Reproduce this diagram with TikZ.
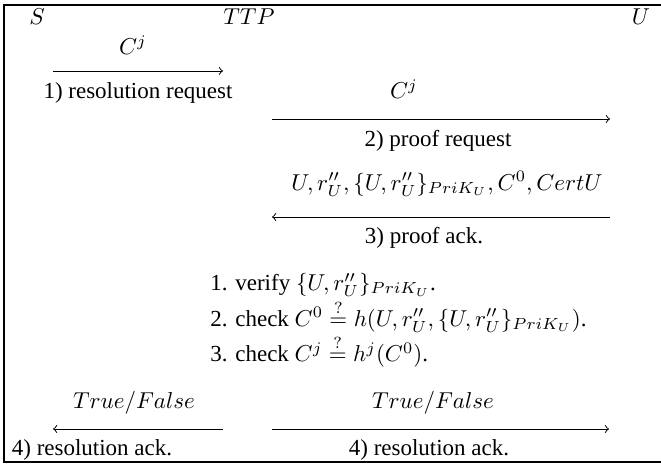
\documentclass[tikz,border=0pt]{standalone}
\usepackage{fontspec}
\setmainfont{Liberation Serif}
\newcommand{\qeq}{\mathrel{\smash{\stackrel{?}{=}}}}
\begin{document}
\begin{tikzpicture}[x=0.435pt,y=-0.435pt,
  lbl/.style={inner sep=0pt, anchor=center},
  chk/.style={inner sep=0pt, anchor=west},
  msg/.style={->, line width=0.4pt},
  frame/.style={line width=0.45pt}]
\useasboundingbox (0,0) rectangle (661,464);
\clip (0,0) rectangle (661,464);
\draw[frame] (690,5) -- (4,5) -- (4,462) -- (690,462);
% actors
\node[lbl] (S) at (37,17) {$S$};
\node[lbl] (TTP) at (249,17) {$TTP$};
\node[lbl] (U) at (641,17) {$U$};
% message 1
\node[lbl] (m1) at (133,45) {$C^j$};
\coordinate (a1s) at (53,71);
\coordinate (a1e) at (223,71);
\draw[msg] (a1s) -- (a1e);
\node[lbl] (l1) at (138,93) {1) resolution request};
% message 2
\node[lbl] (m2) at (404,89) {$C^j$};
\coordinate (a2s) at (272,119);
\coordinate (a2e) at (610,119);
\draw[msg] (a2s) -- (a2e);
\node[lbl] (l2) at (438,141) {2) proof request};
% message 3
\node[lbl] (m3) at (447,184) {$U, r''_U, \{U, r''_U\}_{PriK_U}, C^0, CertU$};
\coordinate (a3s) at (610,217);
\coordinate (a3e) at (272,217);
\draw[msg] (a3s) -- (a3e);
\node[lbl] (l3) at (424,238) {3) proof ack.};
% checks
\node[chk] (c1) at (210,285) {1. verify $\{U, r''_U\}_{PriK_U}$.};
\node[chk] (c2) at (210,320) {2. check $C^0 \qeq h(U, r''_U, \{U, r''_U\}_{PriK_U})$.};
\node[chk] (c3) at (210,355) {3. check $C^j \qeq h^j(C^0)$.};
% message 4 (to S)
\node[lbl] (m4a) at (134,403) {$True/False$};
\coordinate (a4s) at (223,429);
\coordinate (a4e) at (53,429);
\draw[msg] (a4s) -- (a4e);
\node[lbl] (l4a) at (92,450) {4) resolution ack.};
% message 4 (to U)
\node[lbl] (m4b) at (433,403) {$True/False$};
\coordinate (a5s) at (272,429);
\coordinate (a5e) at (609,429);
\draw[msg] (a5s) -- (a5e);
\node[lbl] (l4b) at (429,450) {4) resolution ack.};
\end{tikzpicture}
\end{document}
